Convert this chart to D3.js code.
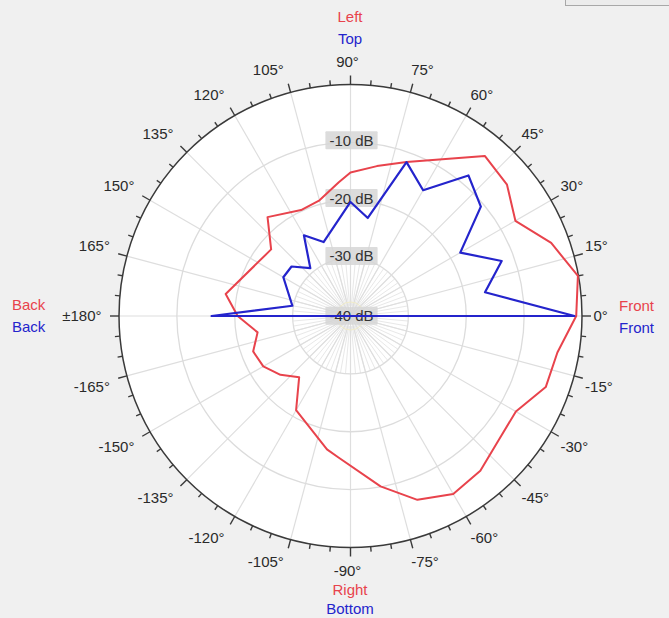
<!DOCTYPE html>
<html>
<head>
<meta charset="utf-8">
<script src="https://cdn.jsdelivr.net/npm/d3@7/dist/d3.min.js"></script>
<style>
  html, body { margin: 0; padding: 0; background: #f0f0f0; }
  svg { display: block; }
  text { font-family: "Liberation Sans", Arial, sans-serif; }
</style>
</head>
<body>
<svg id="chart" width="669" height="618"></svg>
<script>
// ---- Data (angle in degrees CCW from Front, level in dB) ----
const redAngles = [0, 10, 20, 30, 40, 50, 70, 80, 90, 95, 105, 115, 130, 140, 170, 180, 190, 200, 210, 220, 230, 240, 260, 265, 280, 290, 300, 310, 320, 330, 340, 350];
const redDb     = [-1.0, -0.1, -3.1, -7.1, -4.7, -3.9, -11.7, -13.7, -15.2, -16.8, -19.3, -19.8, -17.7, -22.1, -18.1, -20.5, -23.7, -22.1, -22.6, -24.2, -26.2, -21.2, -16.6, -15.5, -10.1, -6.2, -4.5, -5.1, -6.6, -7.0, -4.1, -3.7];

const blueAngles = [0, 10, 20, 30, 40, 50, 60, 70, 80, 90, 110, 120, 130, 140, 150, 170, 180];
const blueDb     = [-1.3, -16.4, -12.2, -18.1, -10.6, -8.3, -14.9, -11.7, -22.8, -20.3, -26.4, -23.9, -29.2, -26.7, -26.6, -29.8, -16.0];

const ringDb = [-40, -30, -20, -10, 0];
const ringLabels = ["-40 dB", "-30 dB", "-20 dB", "-10 dB"];
const tickAngles = [0, 15, 30, 45, 60, 75, 90, 105, 120, 135, 150, 165, 180, 195, 210, 225, 240, 255, 270, 285, 300, 315, 330, 345];
const tickLabels = ["0°", "15°", "30°", "45°", "60°", "75°", "90°", "105°", "120°", "135°", "150°", "165°", "±180°", "-165°", "-150°", "-135°", "-120°", "-105°", "-90°", "-75°", "-60°", "-45°", "-30°", "-15°"];

// ---- Layout ----
const cx = 350.5, cy = 316, R = 231.5;
const RED = "#e8434c", BLUE = "#2424cc";

const svg = d3.select("#chart");
const g = svg.append("g").attr("transform", `translate(${cx},${cy})`);

const r = d3.scaleLinear().domain([-40, 0]).range([0, R]).clamp(true);
// angle for d3 radial: clockwise from 12 o'clock
const a = d3.scaleLinear().domain([0, 360]).range([Math.PI / 2, Math.PI / 2 - 2 * Math.PI]);
const rad = deg => deg * Math.PI / 180;
const clamp1 = v => Math.max(-1, Math.min(1, v));

// top-right button remnant
svg.append("rect").attr("x", 565.5).attr("y", -10).attr("width", 110).attr("height", 15.5)
  .attr("fill", "#ececec").attr("stroke", "#a8a8a8");

// plot face
g.append("circle").attr("r", R).attr("fill", "#ffffff");

// minor spokes near centre every 5°
const minorSpokes = d3.range(0, 360, 5);
g.selectAll(".mspoke").data(minorSpokes).enter().append("line")
  .attr("x1", d => 10 * Math.cos(rad(d))).attr("y1", d => -10 * Math.sin(rad(d)))
  .attr("x2", d => r(-30) * Math.cos(rad(d))).attr("y2", d => -r(-30) * Math.sin(rad(d)))
  .attr("stroke", "#e8e8e8").attr("stroke-width", 1);

// major spokes every 15°
g.selectAll(".spoke").data(tickAngles).enter().append("line")
  .attr("x1", 0).attr("y1", 0)
  .attr("x2", d => R * Math.cos(rad(d))).attr("y2", d => -R * Math.sin(rad(d)))
  .attr("stroke", "#dedede").attr("stroke-width", 1.2);

// rings
g.selectAll(".ring").data(ringDb.filter(d => d > -40 && d < 0)).enter().append("circle")
  .attr("r", d => r(d)).attr("fill", "none").attr("stroke", "#dcdcdc").attr("stroke-width", 1.3);
g.append("circle").attr("r", 14).attr("fill", "none").attr("stroke", "#f1ecc8").attr("stroke-width", 1);

// rim
g.append("circle").attr("r", R).attr("fill", "none").attr("stroke", "#3a3a3a").attr("stroke-width", 1.5);

// ticks every 5°, major every 15°
const allTicks = d3.range(0, 360, 5);
g.selectAll(".tick").data(allTicks).enter().append("line")
  .attr("x1", d => R * Math.cos(rad(d))).attr("y1", d => -R * Math.sin(rad(d)))
  .attr("x2", d => (R + (d % 15 === 0 ? 9 : 5)) * Math.cos(rad(d)))
  .attr("y2", d => -(R + (d % 15 === 0 ? 9 : 5)) * Math.sin(rad(d)))
  .attr("stroke", "#3a3a3a").attr("stroke-width", 1.4);

// data lines
const line = d3.lineRadial()
  .angle(d => a(d[0]))
  .radius(d => r(d[1]))
  .curve(d3.curveLinearClosed);

const redData = redAngles.map((ang, i) => [ang, redDb[i]]);
const blueData = blueAngles.map((ang, i) => [ang, blueDb[i]]);

// dB labels (drawn under the lines)
const lblG = g.append("g");
ringLabels.forEach((t, i) => {
  const db = ringDb[i];
  const yy = -r(db) - (db === -40 ? 0 : 2);
  const tx = lblG.append("text").attr("x", 1).attr("y", yy).attr("dy", "0.35em")
    .attr("text-anchor", "middle").attr("font-size", 15).attr("fill", "#333").text(t);
  const bb = tx.node().getBBox();
  lblG.insert("rect", "text").attr("x", bb.x - 4).attr("y", bb.y - 0.5).attr("width", bb.width + 8)
    .attr("height", bb.height + 1).attr("fill", "#d6d6d6").attr("opacity", 0.85).attr("rx", 1);
});

g.append("path").datum(redData).attr("d", line)
  .attr("fill", "none").attr("stroke", RED).attr("stroke-width", 2).attr("stroke-linejoin", "round");
g.append("path").datum(blueData).attr("d", line)
  .attr("fill", "none").attr("stroke", BLUE).attr("stroke-width", 2.2).attr("stroke-linejoin", "round");

// angle labels
tickAngles.forEach((ang, i) => {
  const t = g.append("text").attr("font-size", 15).attr("fill", "#2a2a2a").attr("text-anchor", "middle")
    .attr("dy", "0.35em").text(tickLabels[i]);
  const w = t.node().getComputedTextLength();
  const c = Math.cos(rad(ang)), s = Math.sin(rad(ang));
  t.attr("x", 246 * c + clamp1(c * 4) * w / 2 - 3)
   .attr("y", -(248 * s + clamp1(s * 4) * 6.5));
});

// direction labels
const dirs = [
  { t: "Left", x: 350, y: 17, c: RED, anchor: "middle" },
  { t: "Top", x: 350, y: 39, c: BLUE, anchor: "middle" },
  { t: "Right", x: 350, y: 590, c: RED, anchor: "middle" },
  { t: "Bottom", x: 350, y: 609, c: BLUE, anchor: "middle" },
  { t: "Back", x: 12, y: 305, c: RED, anchor: "start" },
  { t: "Back", x: 12, y: 327, c: BLUE, anchor: "start" },
  { t: "Front", x: 619, y: 306, c: RED, anchor: "start" },
  { t: "Front", x: 619, y: 328, c: BLUE, anchor: "start" }
];
svg.selectAll(".dir").data(dirs).enter().append("text")
  .attr("x", d => d.x).attr("y", d => d.y).attr("dy", "0.35em")
  .attr("text-anchor", d => d.anchor).attr("font-size", 15)
  .attr("fill", d => d.c).text(d => d.t);
</script>
</body>
</html>
